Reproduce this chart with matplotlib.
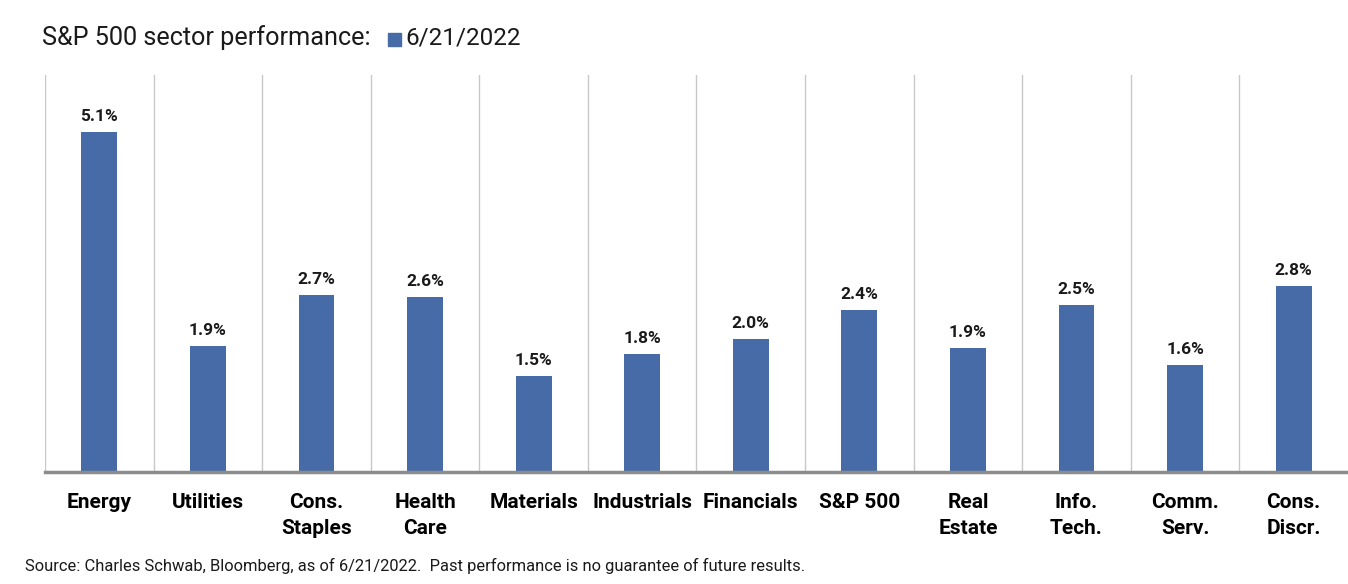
import matplotlib
matplotlib.use("Agg")
import matplotlib.pyplot as plt
import numpy as np

categories = ["Energy", "Utilities", "Cons.\nStaples", "Health\nCare", "Materials",
              "Industrials", "Financials", "S&P 500", "Real\nEstate", "Info.\nTech.",
              "Comm.\nServ.", "Cons.\nDiscr."]
values = [5.10, 1.89, 2.65, 2.62, 1.44, 1.77, 1.99, 2.43, 1.86, 2.50, 1.60, 2.79]
labels = ["5.1%", "1.9%", "2.7%", "2.6%", "1.5%", "1.8%", "2.0%", "2.4%", "1.9%", "2.5%", "1.6%", "2.8%"]
series_name = "6/21/2022"
title = "S&P 500 sector performance:"
source = "Source: Charles Schwab, Bloomberg, as of 6/21/2022.  Past performance is no guarantee of future results."

plt.rcParams['font.family'] = ['Roboto', 'DejaVu Sans']
bar_color = "#466BA6"

fig = plt.figure(figsize=(13.48, 5.84), dpi=100)
W, H = 1348, 584
ax = fig.add_axes([45 / W, 1 - 472 / H, 1 - 45 / W, (472 - 75) / H])

x = np.arange(len(categories))
ax.bar(x, values, width=0.33, color=bar_color, zorder=3)
ax.set_xlim(-0.5, len(categories) - 0.5)
ax.set_ylim(0, 5.955)

for xi in np.arange(-0.5, len(categories) - 0.5, 1.0):
    ax.axvline(xi, color="#C8C8C8", lw=1, zorder=1)

for xi, v, lab in zip(x, values, labels):
    ax.annotate(lab, (xi, v), xytext=(0, 6), textcoords="offset points",
                ha="center", va="bottom", fontsize=12.5, fontweight="bold", color="#1a1a1a")

for s in ax.spines.values():
    s.set_visible(False)
ax.axhline(0, color="#8C8C8C", lw=2.5, zorder=4, clip_on=False)
ax.set_yticks([])
ax.set_xticks(x)
ax.set_xticklabels(categories, fontsize=15, fontweight="bold", linespacing=1.45, va="top")
ax.tick_params(axis="x", length=0, pad=15)

fig.text(42 / W, 1 - 38 / H, title, fontsize=18.2, va="center", ha="left", color="#1a1a1a")
fig.patches.append(matplotlib.patches.Rectangle((388 / W, 1 - 46 / H), 13 / W, 13 / H,
                                                transform=fig.transFigure, color=bar_color))
fig.text(405 / W, 1 - 38 / H, series_name, fontsize=17.5, va="center", ha="left", color="#1a1a1a")
fig.text(25 / W, 1 - 566 / H, source, fontsize=11.9, va="center", ha="left", color="#1a1a1a")

fig.savefig("out.png", dpi=100)
